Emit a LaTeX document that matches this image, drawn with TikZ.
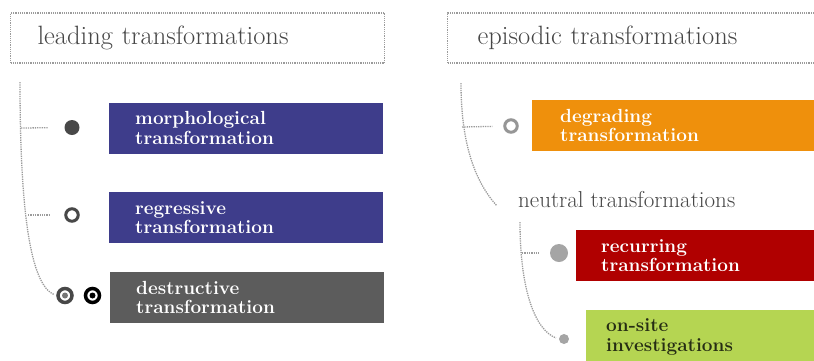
\documentclass[tikz,border=0pt]{standalone}
\usepackage{tikz}
\usetikzlibrary{shapes,arrows}

\definecolor{morphblue}{RGB}{62,61,139}
\definecolor{destgray}{RGB}{92,92,92}
\definecolor{degorange}{RGB}{239,144,12}
\definecolor{recurred}{RGB}{176,0,0}
\definecolor{sitegreen}{RGB}{181,213,82}
\definecolor{sitetext}{RGB}{38,45,20}
\definecolor{headgray}{RGB}{70,70,70}
\definecolor{dotgray}{RGB}{155,155,155}
\definecolor{dotdark}{RGB}{72,72,72}
\definecolor{ringgray}{RGB}{150,150,150}
\definecolor{lightdot}{RGB}{165,165,165}

\begin{document}
\begin{tikzpicture}[x=1pt, y=-1pt]
        \tikzstyle{header} = [rectangle, draw=dotgray, densely dotted, line width=1.2pt, minimum height=50pt, inner xsep=27pt, text width=320pt, align=left, anchor=west, text=headgray, font=\fontsize{26.5}{30}\selectfont]
        \tikzstyle{block} = [rectangle, minimum height=51pt, inner xsep=26pt, text width=222pt, align=left, anchor=west, text=white, font=\fontsize{19}{19.5}\selectfont\bfseries]
        \tikzstyle{dot} = [circle, inner sep=0pt, minimum size=15pt]
        \tikzstyle{ring} = [circle, draw, inner sep=0pt, line width=3pt, minimum size=12.5pt, fill=white]
        \tikzstyle{line} = [draw, dotgray, densely dotted, line width=1.3pt]

        \clip (0,0) rectangle (814,360);

        % headers
        \node [header] (leading_head) at (10,38) {leading transformations};
        \node [header, inner xsep=30pt, text width=360pt] (episodic_head) at (447,38) {episodic transformations};
        \node [anchor=west, inner sep=0pt, text=headgray, font=\fontsize{23}{26}\selectfont] (neutral_head) at (518,200) {neutral transformations};

        % coloured blocks
        \node [block, fill=morphblue] (morph_box) at (109,128) {morphological\\transformation};
        \node [block, fill=morphblue] (regress_box) at (109,217.5) {regressive\\transformation};
        \node [block, fill=destgray] (destruct_box) at (110,297.5) {destructive\\transformation};
        \node [block, fill=degorange, inner xsep=28pt, text width=260pt] (degrade_box) at (532,125.5) {degrading\\transformation};
        \node [block, fill=recurred, inner xsep=25pt, text width=220pt] (recur_box) at (576,255.5) {recurring\\transformation};
        \node [block, fill=sitegreen, text=sitetext, inner xsep=20pt, text width=220pt, minimum height=54pt] (site_box) at (586,337) {on-site\\investigations};

        % markers
        \node [dot, fill=dotdark] (morph_dot) at (72,127.5) {};
        \node [ring, draw=dotdark] (regress_ring) at (72,215) {};
        \node [ring, draw=dotdark, line width=3.5pt, minimum size=14pt, path picture={\fill[dotdark!75] (path picture bounding box.center) circle (3pt);}] (destruct_ring_a) at (65,295.5) {};
        \node [ring, draw=black, line width=3.5pt, minimum size=14pt, path picture={\fill[black] (path picture bounding box.center) circle (3pt);}] (destruct_ring_b) at (92.5,295.5) {};
        \node [ring, draw=ringgray] (degrade_ring) at (511,126) {};
        \node [dot, fill=lightdot, minimum size=18pt] (recur_dot) at (559,253) {};
        \node [dot, fill=lightdot, minimum size=10pt] (site_dot) at (564,339) {};

        % dotted connectors
        \coordinate (leading_top) at (20,82);
        \coordinate (morph_fork) at (21,128);
        \coordinate (regress_fork) at (28,215);
        \path [line, shorten >=2pt] (leading_top) .. controls (20,210) and (30,285) .. (destruct_ring_a.west);
        \path [line, shorten >=16pt] (morph_fork) -- (morph_dot);
        \path [line, shorten >=14pt] (regress_fork) -- (regress_ring);

        \coordinate (episodic_top) at (461,83);
        \coordinate (neutral_end) at (497,206);
        \coordinate (degrade_fork) at (462,127);
        \path [line] (episodic_top) .. controls (461,150) and (478,185) .. (neutral_end);
        \path [line, shorten >=11pt] (degrade_fork) -- (degrade_ring);

        \coordinate (neutral_top) at (520,222);
        \coordinate (recur_fork) at (522,253);
        \path [line, shorten >=3pt] (neutral_top) .. controls (520,290) and (535,330) .. (site_dot.west);
        \path [line, shorten >=10pt] (recur_fork) -- (recur_dot);

    \end{tikzpicture}
\end{document}
